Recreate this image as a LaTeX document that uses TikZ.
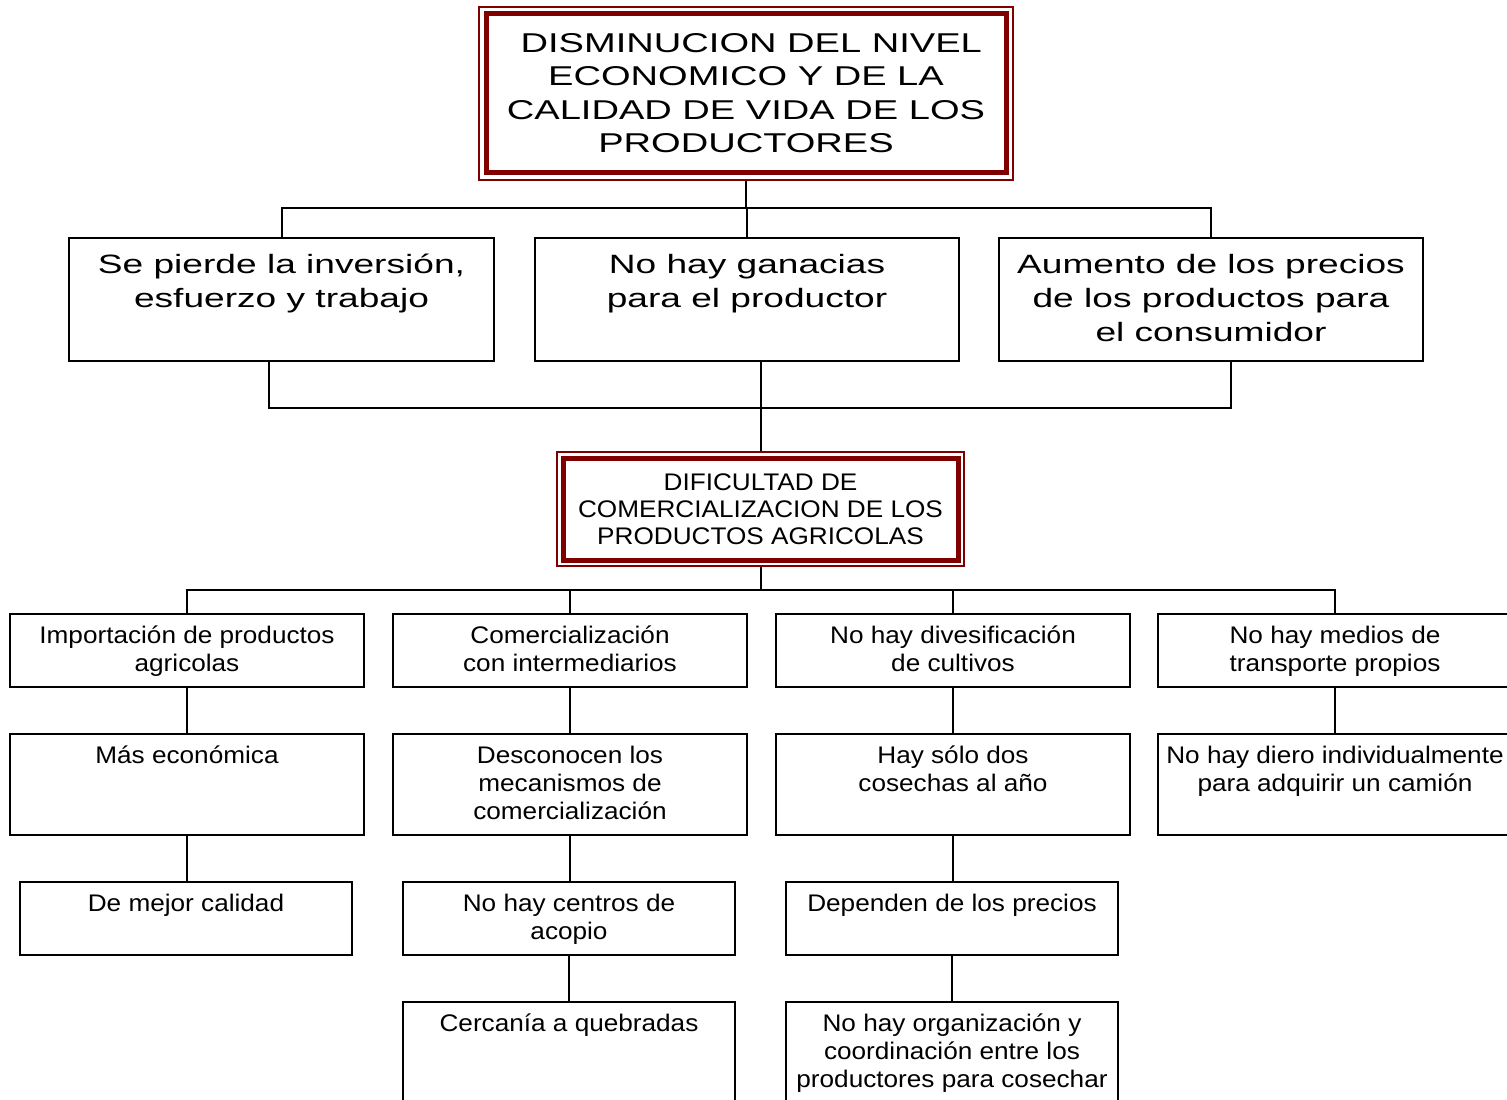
\documentclass[tikz,border=0pt]{standalone}
\usepackage{fontspec}
\usepackage{tikz}
\usetikzlibrary{positioning, calc}
\newfontfamily\widefont[FakeStretch=1.4]{Liberation Sans}
\newfontfamily\plainfont[FakeStretch=1.09]{Liberation Sans}
\definecolor{framered}{HTML}{800000}
\newcommand{\widesize}{\widefont\fontsize{26.5pt}{34pt}\selectfont}
\newcommand{\plainsize}{\plainfont\fontsize{24pt}{28pt}\selectfont}
% text hung from the top of a box: width, height, font, first baseline, text
\newcommand{\boxtext}[5]{\parbox[t][#2][t]{#1}{#3\centering\rule{0pt}{#4}#5}}

\begin{document}
\begin{tikzpicture}[x=1pt, y=-1pt,
  box/.style={draw, line width=2pt, inner sep=0pt, anchor=north},
  framebox/.style={draw=framered, line width=2pt, inner sep=0pt, align=center,
    path picture={\draw[framered, line width=5pt]
      ([shift={(#1,-#1)}]path picture bounding box.north west) rectangle
      ([shift={(-#1,#1)}]path picture bounding box.south east);}},
  link/.style={line width=2pt}]

  \useasboundingbox (0,0) rectangle (1507,1100);
  \clip (0,0) rectangle (1507,1100);

  \node[framebox=7pt, minimum width=534pt, minimum height=173pt,
    font=\widefont\fontsize{27.2pt}{33.5pt}\selectfont] (top) at (746,93)
    {~DISMINUCION DEL NIVEL\\ECONOMICO Y DE LA\\CALIDAD DE VIDA DE LOS\\PRODUCTORES};

  \node[box] (lost) at (281.5,237) {\boxtext{425pt}{123pt}{\widesize}{35pt}{Se pierde la inversión,\\esfuerzo y trabajo}};
  \node[box] (nogain) at (747,237) {\boxtext{424pt}{123pt}{\widesize}{35pt}{No hay ganacias\\para el productor}};
  \node[box] (prices) at (1211,237) {\boxtext{424pt}{123pt}{\widesize}{35pt}{Aumento de los precios\\de los productos para\\el consumidor}};

  \node[framebox=6pt, minimum width=407pt, minimum height=114pt,
    font=\plainfont\fontsize{24pt}{27pt}\selectfont] (dific) at (760.5,509)
    {DIFICULTAD DE\\COMERCIALIZACION DE LOS\\PRODUCTOS AGRICOLAS};

  % first row of causes
  \node[box] (import) at (187,613) {\boxtext{354pt}{73pt}{\plainsize}{29pt}{Importación de productos\\agricolas}};
  \node[box] (middle) at (570,613) {\boxtext{354pt}{73pt}{\plainsize}{29pt}{Comercialización\\con intermediarios}};
  \node[box] (crops) at (953,613) {\boxtext{354pt}{73pt}{\plainsize}{29pt}{No hay divesificación\\de cultivos}};
  \node[box] (transport) at (1335,613) {\boxtext{354pt}{73pt}{\plainsize}{29pt}{No hay medios de\\transporte propios}};

  \node[box] (cheap) at (187,733) {\boxtext{354pt}{101pt}{\plainsize}{29pt}{Más económica}};
  \node[box] (unknown) at (570,733) {\boxtext{354pt}{101pt}{\plainsize}{29pt}{Desconocen los\\mecanismos de\\comercialización}};
  \node[box] (harvest) at (953,733) {\boxtext{354pt}{101pt}{\plainsize}{29pt}{Hay sólo dos\\cosechas al año}};
  \node[box] (money) at (1335,733) {\boxtext{354pt}{101pt}{\plainsize}{29pt}{No hay diero individualmente\\para adquirir un camión}};

  \node[box] (quality) at (186,881) {\boxtext{332pt}{73pt}{\plainsize}{29pt}{De mejor calidad}};
  \node[box] (centers) at (569,881) {\boxtext{332pt}{73pt}{\plainsize}{29pt}{No hay centros de\\acopio}};
  \node[box] (depend) at (952,881) {\boxtext{332pt}{73pt}{\plainsize}{29pt}{Dependen de los precios}};

  \node[box] (creeks) at (569,1001) {\boxtext{332pt}{130pt}{\plainsize}{29pt}{Cercanía a quebradas}};
  \node[box] (coord) at (952,1001) {\boxtext{332pt}{130pt}{\plainsize}{29pt}{No hay organización y\\coordinación entre los\\productores para cosechar}};

  % connectors
  \coordinate (bus1) at (746,208);
  \coordinate (bus2) at (761,408);
  \coordinate (bus3) at (761,590);
  \draw[link] (top.south) -- (bus1);
  \draw[link] (lost.north) |- (bus1) -| (prices.north);
  \draw[link] (nogain.north) -- (nogain.north |- bus1);
  \draw[link] ([xshift=-12.5pt]lost.south) |- (bus2) -| ([xshift=20pt]prices.south);
  \draw[link] (nogain.south -| dific.north) -- (dific.north);
  \draw[link] (dific.south) -- (dific.south |- bus3);
  \draw[link] (import.north) |- (bus3) -| (transport.north);
  \draw[link] (middle.north) -- (middle.north |- bus3);
  \draw[link] (crops.north) -- (crops.north |- bus3);
  \foreach \a/\b in {import/cheap, cheap/quality, middle/unknown, unknown/centers,
    centers/creeks, crops/harvest, harvest/depend, depend/coord, transport/money}
    \draw[link] (\a.south) -- (\a.south |- \b.north);
\end{tikzpicture}
\end{document}
